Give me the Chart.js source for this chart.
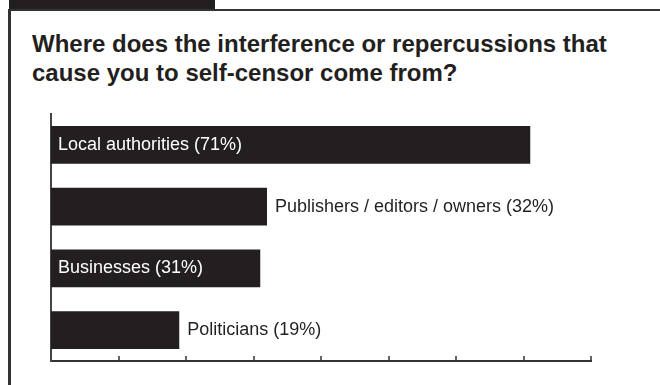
<!DOCTYPE html>
<html>
<head>
<meta charset="utf-8">
<script src="https://cdn.jsdelivr.net/npm/chart.js@4"></script>
<style>
  html, body { margin: 0; padding: 0; background: #fff; }
  #wrap { position: relative; width: 660px; height: 385px; overflow: hidden; }
  #tab { position: absolute; left: 9px; top: 0; width: 206px; height: 9px; background: #231f20; }
  #topline { position: absolute; left: 9px; top: 9px; width: 651px; height: 2px; background: #333; }
  #leftline { position: absolute; left: 8px; top: 9px; width: 3px; height: 376px; background: #333; }
  #title {
    position: absolute; left: 32px; top: 29px;
    font: bold 24px "Liberation Sans", Arial, sans-serif; line-height: 29px;
    color: #231f20;
  }
  canvas { position: absolute; left: 0; top: 0; }
</style>
</head>
<body>
<div id="wrap">
  <div id="tab"></div>
  <div id="topline"></div>
  <div id="leftline"></div>
  <div id="title">Where does the interference or repercussions that<br>cause you to self-censor come from?</div>
  <canvas id="chart" width="660" height="385"></canvas>
</div>
<script>
const categories = ['Local authorities', 'Publishers / editors / owners', 'Businesses', 'Politicians']
const shares = [71, 32, 31, 19]
const axisMax = 80
const axisStep = 10

const barInk = '#231f20'
const labelFont = '18px "Liberation Sans", Arial, sans-serif'

// labels sit inside the bar when they fit, otherwise just past its end
const barLabels = {
  id: 'barLabels',
  afterDatasetsDraw(chart) {
    const ctx = chart.ctx
    const meta = chart.getDatasetMeta(0)
    ctx.save()
    ctx.font = labelFont
    ctx.textBaseline = 'middle'
    meta.data.forEach((bar, i) => {
      const text = categories[i] + ' (' + shares[i] + '%)'
      const w = ctx.measureText(text).width
      const len = bar.x - bar.base
      if (w + 14 < len) {
        ctx.fillStyle = '#fff'
        ctx.fillText(text, bar.base + 7, bar.y)
      } else {
        ctx.fillStyle = barInk
        ctx.fillText(text, bar.x + 8, bar.y)
      }
    })
    ctx.restore()
  }
}

// short tick marks pointing up from the x axis
const upTicks = {
  id: 'upTicks',
  afterDraw(chart) {
    const ctx = chart.ctx
    const x = chart.scales.x
    const y0 = chart.chartArea.bottom
    ctx.save()
    ctx.strokeStyle = '#333'
    ctx.lineWidth = 1.5
    x.ticks.forEach(t => {
      if (t.value === 0) return
      const px = Math.round(x.getPixelForValue(t.value))
      ctx.beginPath()
      ctx.moveTo(px, y0)
      ctx.lineTo(px, y0 - 5)
      ctx.stroke()
    })
    ctx.restore()
  }
}

new Chart(document.getElementById('chart'), {
  type: 'bar',
  data: {
    labels: categories,
    datasets: [{
      data: shares,
      backgroundColor: barInk,
      borderWidth: 0,
      barPercentage: 1,
      categoryPercentage: 0.615
    }]
  },
  options: {
    indexAxis: 'y',
    responsive: false,
    animation: false,
    layout: { padding: { left: 51, top: 114, right: 69, bottom: 24 } },
    plugins: { legend: { display: false }, tooltip: { enabled: false } },
    scales: {
      x: {
        min: 0, max: axisMax,
        ticks: { display: false, stepSize: axisStep },
        grid: { display: false, drawTicks: false },
        border: { display: true, color: '#333', width: 2 }
      },
      y: {
        ticks: { display: false },
        grid: { display: false, drawTicks: false },
        border: { display: true, color: '#444', width: 2 }
      }
    }
  },
  plugins: [barLabels, upTicks]
})
</script>
</body>
</html>
